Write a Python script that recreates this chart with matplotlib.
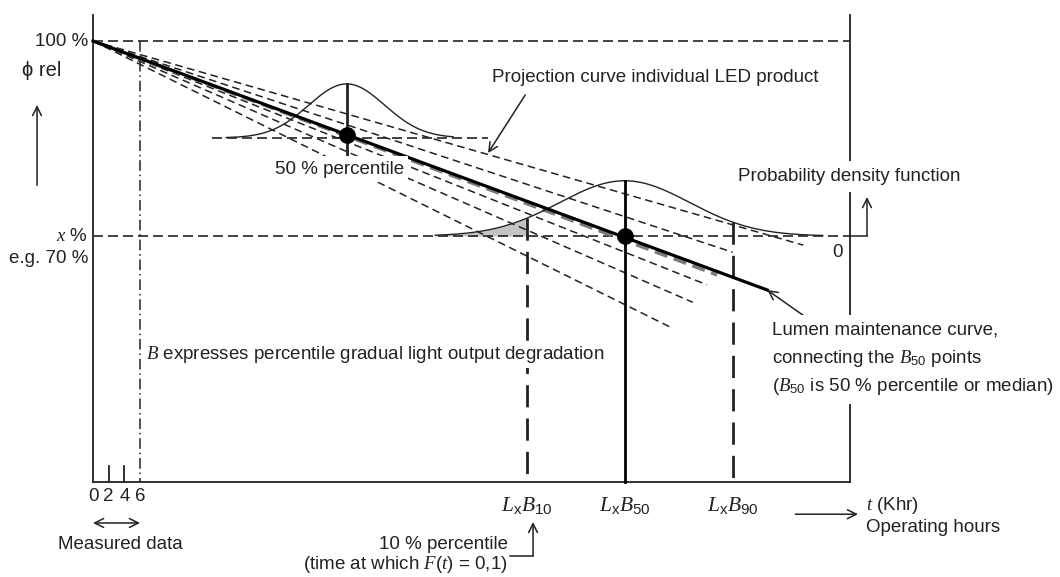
import numpy as np
import matplotlib
matplotlib.use("Agg")
import matplotlib.pyplot as plt

plt.rcParams['font.family'] = ['Liberation Sans', 'DejaVu Sans']
plt.rcParams['mathtext.fontset'] = 'custom'
plt.rcParams['mathtext.rm'] = 'Liberation Sans'
plt.rcParams['mathtext.it'] = 'Liberation Serif:italic'
plt.rcParams['mathtext.bf'] = 'Liberation Sans:bold'

# t in Khr, phi in % of initial luminous flux
measured_t = [0, 2, 4, 6]
measured_labels = ['0', '2', '4', '6']
x_pct = 70
t_b10, t_b50, t_b90 = 55.4, 67.9, 81.7
b_labels = [r'$L_{\mathrm{x}}B_{10}$', r'$L_{\mathrm{x}}B_{50}$', r'$L_{\mathrm{x}}B_{90}$']
t_end = 96.7
phi_bottom, phi_top = 32.15, 104.0

# lumen maintenance curve (median) and the B50 points
lumen_t = [0, 86.1]
lumen_phi = [100, 61.7]
b50_t = [32.4, 67.9]
b50_phi = [85.5, 70.0]

# projection curves of individual products (all start at 0 / 100 %)
proj_end_t = [90.7, 81.7, 78.4, 76.6, 73.7]
proj_end_phi = [68.6, 67.5, 62.5, 59.8, 56.0]
gray_end_t, gray_end_phi = 79.7, 64.0

# probability density functions
pdf1_mu, pdf1_sigma, pdf1_peak, pdf1_base = 32.4, 4.85, 8.3, 85.1
pdf1_t = (17.0, 46.0)
pdf1_base_t = (15.2, 50.4)
pdf2_mu, pdf2_sigma, pdf2_peak = 67.9, 8.3, 8.5
pdf2_t = (43.7, 93.2)

INK = '#222222'
DASH = (5, 3)
FS = 13.5


def bell(t, mu, sigma, peak):
    return peak * np.exp(-0.5 * ((t - mu) / sigma) ** 2)


def arrow(ax, start, end, style='->'):
    ax.annotate('', xy=end, xytext=start,
                arrowprops=dict(arrowstyle=style, color=INK, lw=1.1,
                                mutation_scale=16, shrinkA=0, shrinkB=0))


def main():
    fig = plt.figure(figsize=(10.6, 5.77), dpi=100)
    ax = fig.add_axes([0, 0, 1, 1])
    ax.set_xlim(-11.88, 123.5)
    ax.set_ylim(17.54, 106.31)
    ax.axis('off')

    # frame
    ax.plot([0, 0], [phi_bottom, phi_top], color=INK, lw=1.3)
    ax.plot([0, t_end], [phi_bottom, phi_bottom], color=INK, lw=1.3)
    ax.plot([t_end, t_end], [phi_bottom, phi_top], color=INK, lw=1.3)
    ax.plot([0, t_end], [100, 100], color=INK, lw=1.2, dashes=(6, 3))
    ax.plot([0, t_end], [x_pct, x_pct], color=INK, lw=1.2, dashes=(6, 3))

    # measured data ticks and end of measurement
    for t in measured_t[1:3]:
        ax.plot([t, t], [phi_bottom, phi_bottom + 2.5], color=INK, lw=1.3)
    ax.plot([measured_t[-1]] * 2, [100, phi_bottom], color=INK, lw=1.1,
            dashes=(7, 2.5, 1, 2.5))
    for t, lab in zip(measured_t, measured_labels):
        ax.text(t, 29.85, lab, ha='center', va='center', fontsize=FS, color=INK)
    arrow(ax, (measured_t[0], 25.85), (measured_t[-1], 25.85), '<->')
    ax.text(3.45, 22.5, 'Measured data', ha='center', va='center',
            fontsize=FS, color=INK)

    # projection curves
    for te, pe in zip(proj_end_t, proj_end_phi):
        ax.plot([0, te], [100, pe], color=INK, lw=1.1, dashes=DASH, zorder=2)
    ax.plot([0, gray_end_t], [100, gray_end_phi], color='#7a7a7a', lw=2.4,
            dashes=(4, 2), zorder=2)
    ax.plot(lumen_t, lumen_phi, color='black', lw=2.3, zorder=3)
    ax.plot(b50_t, b50_phi, 'o', color='black', ms=11, zorder=4)

    # pdf at first time
    tt = np.linspace(*pdf1_t, 200)
    ax.plot(pdf1_base_t, [pdf1_base] * 2, color=INK, lw=1.2, dashes=(6, 3))
    ax.plot(tt, pdf1_base + bell(tt, pdf1_mu, pdf1_sigma, pdf1_peak),
            color=INK, lw=1.0)
    ax.plot([pdf1_mu] * 2, [pdf1_base + pdf1_peak, 82.0], color=INK, lw=2.0)

    # pdf at x %
    tt = np.linspace(*pdf2_t, 300)
    ax.plot(tt, x_pct + bell(tt, pdf2_mu, pdf2_sigma, pdf2_peak),
            color=INK, lw=1.0)
    ts = np.linspace(pdf2_t[0], t_b10, 100)
    ax.fill_between(ts, x_pct, x_pct + bell(ts, pdf2_mu, pdf2_sigma, pdf2_peak),
                    color='#c4c4c4', lw=0, zorder=1)
    ax.plot([t_b50] * 2, [x_pct + pdf2_peak, phi_bottom], color='black', lw=2.0)
    for tb in (t_b10, t_b90):
        ax.plot([tb] * 2, [x_pct + bell(tb, pdf2_mu, pdf2_sigma, pdf2_peak),
                           phi_bottom], color=INK, lw=2.0, dashes=(8, 4))
    for tb, lab in zip((t_b10, t_b50, t_b90), b_labels):
        ax.text(tb, 28.6, lab, ha='center', va='center', fontsize=15.5, color=INK)

    # pdf axis arrow
    ax.plot([t_end, 98.85], [x_pct, x_pct], color=INK, lw=1.1)
    arrow(ax, (98.85, x_pct), (98.85, 76.0))
    ax.text(95.1, 67.5, '0', ha='center', va='center', fontsize=FS, color=INK)

    box = dict(facecolor='white', edgecolor='none', pad=2)

    # y axis labels
    ax.text(-0.64, 100, '100 %', ha='right', va='center', fontsize=FS, color=INK)
    ax.text(-9.1, 95.5, 'ϕ rel', ha='left', va='center', fontsize=14.5, color=INK)
    arrow(ax, (-7.15, 77.8), (-7.15, 90.15))
    ax.text(-0.64, 70.0, r'$x$ %', ha='right', va='center', fontsize=FS, color=INK)
    ax.text(-0.64, 66.6, 'e.g. 70 %', ha='right', va='center', fontsize=FS, color=INK)

    # annotations
    ax.text(50.96, 94.46, 'Projection curve individual LED product',
            ha='left', va='center', fontsize=FS, color=INK)
    arrow(ax, (55.2, 91.7), (50.45, 82.77))
    ax.text(23.2, 80.3, '50 % percentile', ha='left', va='center',
            fontsize=FS, color=INK,
            bbox=dict(facecolor='white', edgecolor='none', pad=3), zorder=5)
    ax.text(82.4, 79.1, 'Probability density function', ha='left', va='center',
            fontsize=FS, color=INK,
            bbox=dict(facecolor='white', edgecolor='none', pad=5), zorder=5)
    ax.text(6.8, 51.8, r'$B$ expresses percentile gradual light output degradation',
            ha='left', va='center', fontsize=FS, color=INK, bbox=box, zorder=5)

    lumen_lines = ['Lumen maintenance curve,',
                   r'connecting the $B_{50}$ points',
                   r'($B_{50}$ is 50 % percentile or median)']
    for phi, s in zip([55.5, 51.2, 46.8], lumen_lines):
        ax.text(86.7, phi, s, ha='left', va='center', fontsize=FS, color=INK,
                bbox=dict(facecolor='white', edgecolor='none', pad=5), zorder=5)
    arrow(ax, (90.7, 57.8), (86.1, 61.7))

    # bottom right
    ax.text(53.0, 22.5, '10 % percentile', ha='right', va='center',
            fontsize=FS, color=INK)
    ax.text(53.0, 19.4, r'(time at which $F(t)$ = 0,1)', ha='right', va='center',
            fontsize=FS, color=INK)
    ax.plot([53.3, 56.2], [20.77, 20.77], color=INK, lw=1.1)
    arrow(ax, (56.2, 20.77), (56.2, 26.0))

    arrow(ax, (89.7, 27.2), (97.7, 27.2))
    ax.text(98.7, 28.6, r'$t$ (Khr)', ha='left', va='center', fontsize=FS, color=INK)
    ax.text(98.7, 25.2, 'Operating hours', ha='left', va='center',
            fontsize=FS, color=INK)

    fig.savefig('out.png', dpi=100, facecolor='white')


if __name__ == "__main__":
    main()
